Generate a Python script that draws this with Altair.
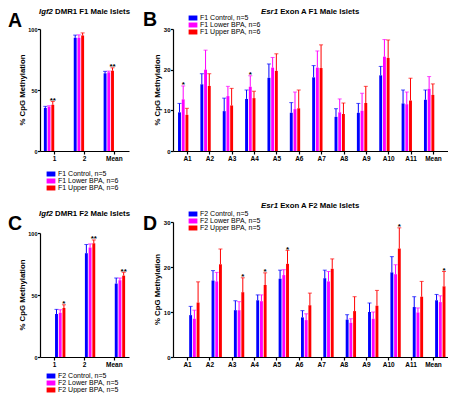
import altair as alt
import pandas as pd

FONT = "Liberation Sans"

# ---------------- data ----------------
igf2_groups = ["1", "2", "Mean"]
esr1_groups = ["A1", "A2", "A3", "A4", "A5", "A6", "A7", "A8", "A9", "A10", "A11", "Mean"]

f1_series = ["F1 Control, n=5", "F1 Lower BPA, n=6", "F1 Upper BPA, n=6"]
f2_series = ["F2 Control, n=5", "F2 Lower BPA, n=5", "F2 Upper BPA, n=5"]
series_colors = ["#0000ff", "#ff00ff", "#ff0000"]

# Panel A: Igf2 DMR1, F1
a_control = [35.3, 92.8, 63.7]
a_control_err = [1.3, 2.2, 1.6]
a_lower = [36.3, 92.8, 64.5]
a_lower_err = [0.8, 2.4, 1.0]
a_upper = [37.9, 94.7, 65.8]
a_upper_err = [2.7, 2.1, 2.4]
a_stars_upper = ["**", "", "**"]

# Panel B: Esr1 exon A, F1
b_control = [9.5, 16.4, 9.8, 12.8, 18.0, 9.4, 18.1, 8.4, 9.4, 18.6, 11.7, 12.6]
b_control_err = [2.2, 2.6, 3.2, 2.2, 3.4, 2.5, 2.9, 2.0, 2.3, 2.2, 3.3, 2.4]
b_lower = [12.7, 20.0, 13.5, 15.8, 20.5, 10.3, 20.5, 9.5, 9.9, 23.2, 11.5, 15.3]
b_lower_err = [3.3, 4.8, 2.4, 2.7, 2.5, 4.2, 4.1, 3.3, 4.3, 4.2, 3.0, 3.0]
b_upper = [8.9, 16.0, 11.2, 13.0, 19.7, 10.5, 20.4, 9.1, 11.8, 22.9, 12.4, 13.8]
b_upper_err = [1.6, 3.0, 4.2, 1.7, 4.2, 4.5, 5.7, 2.7, 4.1, 4.4, 5.5, 2.7]
b_stars_lower = ["*", "", "", "*", "", "", "", "", "", "", "", ""]

# Panel C: Igf2 DMR1, F2
c_control = [34.7, 83.7, 59.2]
c_control_err = [3.7, 7.0, 4.5]
c_lower = [35.7, 88.3, 61.9]
c_lower_err = [2.4, 2.9, 1.8]
c_upper = [39.5, 91.7, 65.6]
c_upper_err = [2.6, 2.7, 2.7]
c_stars_upper = ["*", "**", "**"]

# Panel D: Esr1 exon A, F2
d_control = [9.3, 17.0, 10.4, 12.6, 17.4, 8.8, 17.5, 8.3, 10.0, 18.8, 11.1, 12.6]
d_control_err = [1.95, 2.2, 2.1, 1.2, 1.9, 1.5, 1.8, 1.1, 2.0, 3.5, 2.3, 1.3]
d_lower = [8.5, 16.8, 10.4, 12.4, 18.2, 8.2, 16.8, 7.6, 8.5, 18.4, 9.9, 12.2]
d_lower_err = [1.9, 2.0, 1.9, 1.4, 1.2, 1.4, 2.2, 0.9, 1.5, 2.1, 1.0, 1.4]
d_upper = [12.1, 20.6, 14.4, 16.0, 20.7, 11.5, 19.6, 10.2, 11.4, 24.1, 13.4, 15.7]
d_upper_err = [4.6, 3.4, 3.2, 2.7, 3.0, 2.7, 2.2, 3.2, 3.4, 4.6, 3.4, 3.3]
d_stars_upper = ["", "", "*", "*", "*", "", "", "", "", "*", "", "*"]

igf2_ticks = [0, 50, 100]
esr1_ticks = [0, 5, 10, 15, 20, 25, 30]

# ---------------- helpers ----------------
BOLD_W = {" ": 278, "A": 722, "D": 722, "E": 667, "F": 611, "I": 278, "M": 833,
          "R": 722, "1": 556, "2": 556, "a": 556, "e": 556, "f": 333, "g": 611,
          "l": 278, "n": 611, "o": 611, "r": 389, "s": 556, "t": 333, "x": 556}


def text_w(s, fs):
    return sum(BOLD_W.get(c, 556) for c in s) / 1000.0 * fs


def long_df(groups, series, values, errs, stars):
    rows = []
    for si, s in enumerate(series):
        for gi, g in enumerate(groups):
            v = values[si][gi]
            rows.append({"g": g, "s": s, "v": v, "hi": v + errs[si][gi],
                         "star": stars[si][gi]})
    return pd.DataFrame(rows)


ONE = pd.DataFrame({"k": [0]})
SYMBOL = "M-1.1,-0.62H1.1V0.62H-1.1Z"


def panel(df, groups, series, ydom, yticks, w, h, top, pad_in, pad_out, off_pad,
          t_it, t_rest, t_y, letter, l_x, l_y, lg_x, lg_y, yt_x, ylab_fs):
    x = alt.X("g:N", sort=groups,
              scale=alt.Scale(domain=groups, paddingInner=pad_in, paddingOuter=pad_out),
              axis=alt.Axis(title=None, labelAngle=0, labelFontSize=6.5, labelPadding=1,
                            tickSize=3))
    xo = alt.XOffset("s:N", sort=series,
                     scale=alt.Scale(domain=series, paddingInner=off_pad, paddingOuter=0))
    y = alt.Y("v:Q", scale=alt.Scale(domain=ydom, nice=False, zero=True, range=[h, top]),
              axis=alt.Axis(title=None, values=yticks, labelFontSize=ylab_fs,
                            labelPadding=0.5, tickSize=2.5, labelOverlap=False,
                            labelFlush=False, zindex=1, orient="left"))
    base = alt.Chart(df)
    bars = base.mark_bar().encode(
        x=x, xOffset=xo, y=y,
        color=alt.Color("s:N", scale=alt.Scale(domain=series, range=series_colors),
                        legend=alt.Legend(orient="none", legendX=lg_x, legendY=lg_y,
                                          title=None, symbolType=SYMBOL, symbolSize=64,
                                          symbolStrokeWidth=0, labelFont=FONT,
                                          labelFontSize=7, labelColor="black",
                                          labelOffset=3, rowPadding=0, padding=0)))
    rules = base.mark_rule(strokeWidth=1).encode(
        x=x, xOffset=xo, y="v:Q", y2="hi:Q",
        stroke=alt.Stroke("s:N", scale=alt.Scale(domain=series, range=series_colors),
                          legend=None))
    caps = base.mark_tick(size=4, thickness=1).encode(
        x=x, xOffset=xo, y="hi:Q",
        fill=alt.Fill("s:N", scale=alt.Scale(domain=series, range=series_colors),
                      legend=None))
    stars = base.transform_filter("datum.star != ''").mark_text(
        font=FONT, fontSize=8, fontWeight="bold", baseline="alphabetic", dy=1.5,
        color="black").encode(x=x, xOffset=xo, y="hi:Q", text="star:N")

    fs = 7.8
    w_it = text_w(t_it, fs)
    w_sp = text_w(" ", fs)
    w_rest = text_w(t_rest, fs)
    x0 = w / 2 - (w_it + w_sp + w_rest) / 2 + w_it
    ann = alt.Chart(ONE)
    t1 = ann.mark_text(text=t_it, font=FONT, fontSize=fs, fontWeight="bold",
                       fontStyle="italic", align="right", baseline="middle",
                       color="black").encode(x=alt.value(x0), y=alt.value(t_y))
    t2 = ann.mark_text(text=t_rest, font=FONT, fontSize=fs, fontWeight="bold",
                       align="left", baseline="middle",
                       color="black").encode(x=alt.value(x0 + w_sp), y=alt.value(t_y))
    lt = ann.mark_text(text=letter, font=FONT, fontSize=19.5, fontWeight="bold",
                       align="left", baseline="alphabetic",
                       color="black").encode(x=alt.value(l_x), y=alt.value(l_y))
    yt = ann.mark_text(text="% CpG Methylation", font=FONT, fontSize=7.8,
                       fontWeight="bold", angle=270, align="center",
                       baseline="middle", color="black").encode(
        x=alt.value(yt_x), y=alt.value((h + top) / 2))
    return alt.layer(bars, rules, caps, stars, t1, t2, lt, yt).properties(width=w, height=h)


dfA = long_df(igf2_groups, f1_series, [a_control, a_lower, a_upper],
              [a_control_err, a_lower_err, a_upper_err],
              [[""] * 3, [""] * 3, a_stars_upper])
dfB = long_df(esr1_groups, f1_series, [b_control, b_lower, b_upper],
              [b_control_err, b_lower_err, b_upper_err],
              [[""] * 12, b_stars_lower, [""] * 12])
dfC = long_df(igf2_groups, f2_series, [c_control, c_lower, c_upper],
              [c_control_err, c_lower_err, c_upper_err],
              [[""] * 3, [""] * 3, c_stars_upper])
dfD = long_df(esr1_groups, f2_series, [d_control, d_lower, d_upper],
              [d_control_err, d_lower_err, d_upper_err],
              [[""] * 12, [""] * 12, d_stars_upper])

WA, HA = 89, 122
WB, HB = 275, 122
HD = 135          # row-2 view height (panel D plot)
CTOP = 11         # panel C plot starts lower than panel D

pA = panel(dfA, igf2_groups, f1_series, [0, 100], igf2_ticks, WA, HA, 0, 0.28, 0.13, 0.22,
           "Igf2", "DMR1 F1 Male Islets", -17, "A", -32, -2, 7, HA + 19, -17, 5.5)
pB = panel(dfB, esr1_groups, f1_series, [0, 30], esr1_ticks, WB, HB, 0, 0.15, 0.225, 0.17,
           "Esr1", "Exon A F1 Male Islets", -17, "B", -30, -3, 16, -15, -15, 6.0)
pC = panel(dfC, igf2_groups, f2_series, [0, 100], igf2_ticks, WA, HD, CTOP, 0.28, 0.13, 0.22,
           "Igf2", "DMR1 F2 Male Islets", CTOP - 19, "C", -32, CTOP - 3, 7, HD + 15, -17, 5.5)
pD = panel(dfD, esr1_groups, f2_series, [0, 30], esr1_ticks, WB, HD, 0, 0.15, 0.225, 0.17,
           "Esr1", "Exon A F2 Male Islets", -16, "D", -30, 8, 16, -12, -15, 6.0)

ind = dict(color="independent", fill="independent", stroke="independent")
row1 = alt.hconcat(pA, pB, spacing=13).resolve_scale(**ind)
row2 = alt.hconcat(pC, pD, spacing=13).resolve_scale(**ind)

chart = (
    alt.vconcat(row1, row2, spacing=11)
    .resolve_scale(**ind)
    .properties(padding=0)
    .configure_view(stroke=None)
    .configure_axis(labelFont=FONT, labelFontWeight="bold", labelColor="black",
                    domainColor="black", domainWidth=1.2, tickColor="black",
                    tickWidth=1.2, grid=False)
)

chart.save("out.html", embed_options={"renderer": "svg", "actions": False})
